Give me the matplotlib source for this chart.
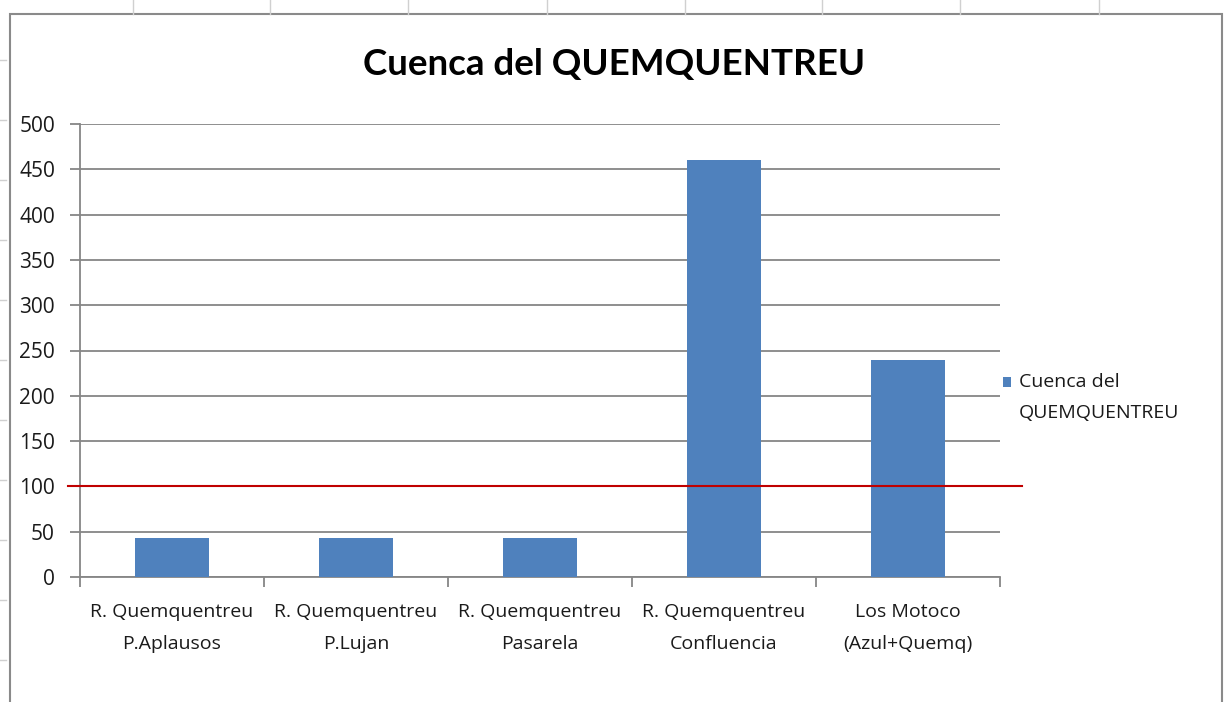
import matplotlib
matplotlib.use("Agg")
import matplotlib.pyplot as plt
from matplotlib.lines import Line2D
from matplotlib.patches import Rectangle

categories = ["R. Quemquentreu\nP.Aplausos", "R. Quemquentreu\nP.Lujan",
              "R. Quemquentreu\nPasarela", "R. Quemquentreu\nConfluencia",
              "Los Motoco\n(Azul+Quemq)"]
values = [43, 43, 43, 460, 240]
series_name = ["Cuenca del", "QUEMQUENTREU"]
title = "Cuenca del QUEMQUENTREU"
yticks = [0, 50, 100, 150, 200, 250, 300, 350, 400, 450, 500]
threshold = 100

W, H = 1229, 702
fig = plt.figure(figsize=(W / 100, H / 100), dpi=100)
plt.rcParams['font.family'] = ['Open Sans', 'DejaVu Sans']
TXT = '#1a1a1a'
BAR = '#4F81BD'

def fx(px): return px / W
def fy(py): return 1 - py / H

# spreadsheet background lines & chart border
for x in [133, 270, 408, 547, 685, 822, 960, 1099]:
    fig.add_artist(Line2D([fx(x), fx(x)], [fy(0), fy(14)], color='#d0d0d0', lw=1))
for y in [60, 120, 180, 240, 300, 360, 420, 480, 540, 600, 660]:
    fig.add_artist(Line2D([fx(0), fx(6)], [fy(y), fy(y)], color='#d0d0d0', lw=1))
fig.add_artist(Rectangle((fx(10), fy(705)), fx(1222) - fx(10), fy(14) - fy(705),
                         fill=False, edgecolor='#8a8a8a', lw=1.5))

ax = fig.add_axes([fx(80), fy(577), fx(1000) - fx(80), fy(124) - fy(577)])
x = list(range(len(categories)))
ax.bar(x, values, width=0.4, color=BAR, zorder=3)
ax.set_xlim(-0.5, len(categories) - 0.5)
ax.set_ylim(0, 500)
ax.set_yticks(yticks)
ax.yaxis.grid(True, color='#868686', lw=1.3, zorder=0)
ax.set_axisbelow(True)
for s in ['top', 'right']:
    ax.spines[s].set_visible(False)
for s in ['left', 'bottom']:
    ax.spines[s].set_color('#868686')
    ax.spines[s].set_linewidth(1.3)
ax.set_xticks(x)
ax.set_xticklabels(categories, fontsize=14, linespacing=1.95, color=TXT)
ax.set_xticks([i + 0.5 for i in x[:-1]] + [-0.5, len(categories) - 0.5], minor=True)
ax.tick_params(axis='x', which='major', length=0, pad=19)
ax.tick_params(axis='x', which='minor', length=7, color='#868686', width=1.3)
ax.tick_params(axis='y', length=7, color='#868686', width=1.3, pad=11,
               labelsize=15, labelcolor=TXT)

# red threshold line, extends slightly beyond plot area
ax.plot([-0.565, 4.62], [threshold, threshold], color='#C00000', lw=1.5,
        clip_on=False, zorder=4)

fig.text(0.5, fy(65), title, ha='center', va='center', fontsize=26.5,
         fontweight='bold', color='#000000', family='Lato')

# legend (handle aligned with first text line, as in Excel)
fig.add_artist(Rectangle((fx(1003), fy(387)), fx(1011) - fx(1003), fy(377) - fy(387),
                         facecolor=BAR, edgecolor='none'))
fig.text(fx(1019), fy(382), series_name[0], ha='left', va='center', fontsize=14, color=TXT)
fig.text(fx(1019), fy(413), series_name[1], ha='left', va='center', fontsize=14, color=TXT)

fig.savefig("out.png", dpi=100, facecolor='white')
